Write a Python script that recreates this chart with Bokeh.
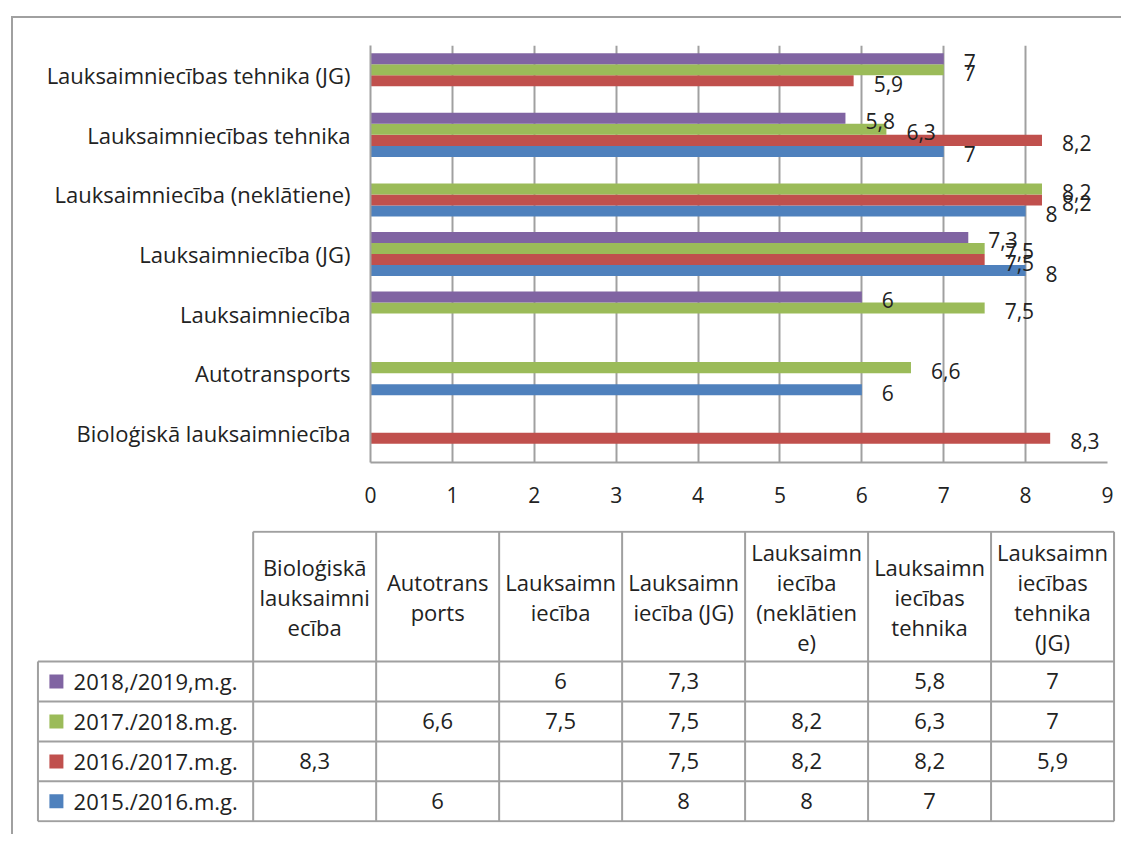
from bokeh.plotting import figure
from bokeh.models import FactorRange, Range1d, ColumnDataSource, FixedTicker
from bokeh.transform import dodge
from bokeh.layouts import column
from bokeh.embed import file_html
from bokeh.resources import INLINE
from bokeh.core.properties import value

categories = ["Bioloģiskā lauksaimniecība", "Autotransports", "Lauksaimniecība",
              "Lauksaimniecība (JG)", "Lauksaimniecība (neklātiene)",
              "Lauksaimniecības tehnika", "Lauksaimniecības tehnika (JG)"]
table_headers = ["Bioloģiskā\nlauksaimni\necība", "Autotrans\nports", "Lauksaimn\niecība",
                 "Lauksaimn\niecība (JG)", "Lauksaimn\niecība\n(neklātien\ne)",
                 "Lauksaimn\niecības\ntehnika", "Lauksaimn\niecības\ntehnika\n(JG)"]
series_names = ["2015./2016.m.g.", "2016./2017.m.g.", "2017./2018.m.g.", "2018,/2019,m.g."]
series_colors = ["#4F81BD", "#C0504D", "#9BBB59", "#8064A2"]
N = None
vals_2015 = [N, 6, N, 8, 8, 7, N]
vals_2016 = [8.3, N, N, 7.5, 8.2, 8.2, 5.9]
vals_2017 = [N, 6.6, 7.5, 7.5, 8.2, 6.3, 7]
vals_2018 = [N, N, 6, 7.3, N, 5.8, 7]
series_values = [vals_2015, vals_2016, vals_2017, vals_2018]
x_ticks = [0, 1, 2, 3, 4, 5, 6, 7, 8, 9]

FONTNAME = "Open Sans"
FONT = value(FONTNAME)
FS_CAT = "22px"
FS_TAB = "22px"
FS_LBL = "21px"
FS_TICK = "21px"
TXT = "#222222"
GRID = "#a0a0a0"


def fmt(v):
    return ("%g" % v).replace(".", ",")


# ---------------- chart ----------------
p = figure(width=1108, height=502, y_range=FactorRange(*categories),
           x_range=Range1d(x_ticks[0], x_ticks[-1]),
           output_backend="svg", toolbar_location=None, frame_align=False,
           min_border_left=357, min_border_right=14, min_border_top=27, min_border_bottom=58)
p.outline_line_color = None
p.ygrid.grid_line_color = None
p.xgrid.grid_line_color = GRID
p.xgrid.grid_line_width = 2
p.xaxis.ticker = FixedTicker(ticks=x_ticks)
for ax in (p.xaxis[0], p.yaxis[0]):
    ax.axis_line_color = GRID
    ax.axis_line_width = 2
    ax.major_tick_line_color = None
    ax.minor_tick_line_color = None
    ax.major_tick_out = 0
    ax.major_tick_in = 0
    ax.major_label_text_font = FONTNAME
    ax.major_label_text_color = TXT
p.yaxis.major_label_text_font_size = FS_CAT
p.yaxis.major_label_standoff = 20
p.xaxis.major_label_text_font_size = FS_TICK
p.xaxis.major_label_standoff = 24

h = 0.185
sources = []
for i, (vals, col) in enumerate(zip(series_values, series_colors)):
    cats = [c for c, v in zip(categories, vals) if v is not None]
    vs = [v for v in vals if v is not None]
    src = ColumnDataSource(dict(cat=cats, val=vs, label=[fmt(v) for v in vs]))
    off = (i - 1.5) * h
    sources.append((src, off))
    p.hbar(y=dodge("cat", off, range=p.y_range), left=0, right="val", height=h,
           source=src, fill_color=col, line_color=None)
for src, off in sources:
    p.text(x="val", y=dodge("cat", off, range=p.y_range), text="label", source=src,
           x_offset=20, y_offset=3, text_align="left", text_baseline="middle",
           text_font=FONT, text_font_size=FS_LBL, text_color=TXT)

# ---------------- data table ----------------
ncol = len(categories)
nrow = len(series_names)
hdr = 3.25
lab_w = 1.75
t = figure(width=1108, height=314, x_range=Range1d(-lab_w - 0.02, ncol + 0.02),
           y_range=Range1d(-0.03, nrow + hdr + 0.03),
           output_backend="svg", toolbar_location=None, frame_align=False,
           min_border_left=22, min_border_right=5, min_border_top=10, min_border_bottom=12)
t.xaxis.visible = False
t.yaxis.visible = False
t.grid.visible = False
t.outline_line_color = None

x0s, y0s, x1s, y1s = [], [], [], []
for r in range(nrow + 1):
    x0s.append(-lab_w); x1s.append(ncol); y0s.append(r); y1s.append(r)
x0s.append(0); x1s.append(ncol); y0s.append(nrow + hdr); y1s.append(nrow + hdr)
x0s.append(-lab_w); x1s.append(-lab_w); y0s.append(0); y1s.append(nrow)
for c in range(ncol + 1):
    x0s.append(c); x1s.append(c); y0s.append(0); y1s.append(nrow + hdr)
t.segment(x0=x0s, y0=y0s, x1=x1s, y1=y1s, line_color=GRID, line_width=2)

t.text(x=[c + 0.5 for c in range(ncol)], y=[nrow + hdr / 2] * ncol, text=table_headers,
       text_align="center", text_baseline="middle", text_line_height=1.0,
       text_font=FONT, text_font_size=FS_TAB, text_color=TXT)

t.scatter(x=[-lab_w + 0.15] * nrow, y=[r + 0.5 for r in range(nrow)], marker="square",
          size=14, fill_color=series_colors, line_color=None)
t.text(x=[-lab_w + 0.29] * nrow, y=[r + 0.5 for r in range(nrow)], text=series_names,
       text_align="left", text_baseline="middle",
       text_font=FONT, text_font_size=FS_TAB, text_color=TXT)

cx, cy, ct = [], [], []
for r, vals in enumerate(series_values):
    for c, v in enumerate(vals):
        if v is not None:
            cx.append(c + 0.5); cy.append(r + 0.5); ct.append(fmt(v))
t.text(x=cx, y=cy, text=ct, text_align="center", text_baseline="middle",
       text_font=FONT, text_font_size=FS_TAB, text_color=TXT)

layout = column(p, t, margin=(16, 0, 0, 11),
                styles={"border-left": "2px solid #a0a0a0", "border-top": "2px solid #a0a0a0"})

open("out.html", "w").write(file_html(layout, INLINE))
